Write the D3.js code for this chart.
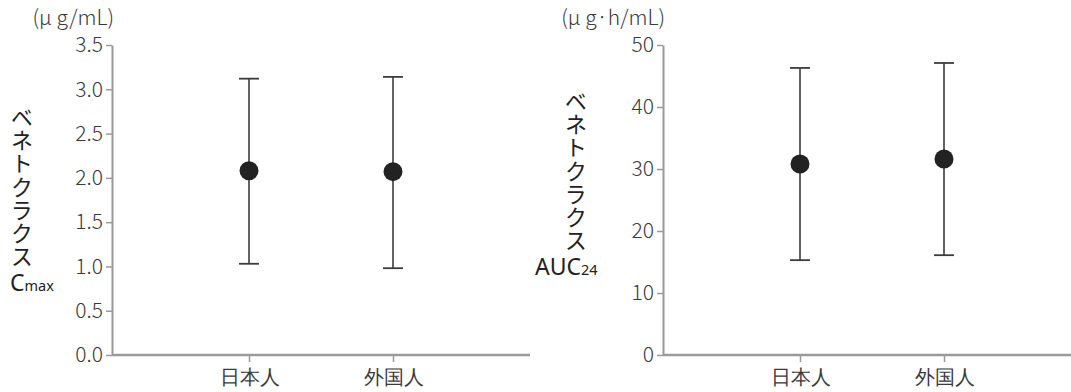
<!DOCTYPE html>
<html>
<head>
<meta charset="utf-8">
<script src="https://cdn.jsdelivr.net/npm/d3@7"></script>
<style>
  html, body { margin: 0; padding: 0; background: #fff; }
  svg { display: block; font-family: "Noto Sans CJK JP", "Noto Sans", sans-serif; }
</style>
</head>
<body>
<svg id="chart" width="1071" height="392"></svg>
<script>
// Groups
const categories = ["日本人", "外国人"];

// Cmax (μg/mL): mean with lower / upper whisker
const cmaxMean = [2.08, 2.07];
const cmaxLow  = [1.03, 0.98];
const cmaxHigh = [3.12, 3.14];
const cmaxTicks = [0, 0.5, 1.0, 1.5, 2.0, 2.5, 3.0, 3.5];

// AUC24 (μg·h/mL)
const aucMean = [30.8, 31.6];
const aucLow  = [15.3, 16.1];
const aucHigh = [46.3, 47.1];
const aucTicks = [0, 10, 20, 30, 40, 50];

const svg = d3.select("#chart");
const axisColor = "#9a9a9a";
const textColor = "#3a3a3a";

function panel(opt) {
  const g = svg.append("g");
  const top = 45, bottom = 355;

  const y = d3.scaleLinear().domain([0, opt.max]).range([bottom, top]);
  const x = d3.scalePoint().domain(categories).range([opt.axisX + 137, opt.axisX + 281]);

  // y axis
  const yAxis = g.append("g")
    .attr("transform", `translate(${opt.axisX},0)`)
    .call(d3.axisLeft(y).tickValues(opt.ticks).tickFormat(opt.fmt).tickSize(6).tickSizeOuter(0).tickPadding(3));
  yAxis.select(".domain").attr("stroke", axisColor).attr("stroke-width", 2);
  yAxis.selectAll(".tick line").attr("stroke", axisColor).attr("stroke-width", 1.5);
  yAxis.selectAll(".tick text").attr("fill", textColor).attr("font-size", 21)
    .attr("font-weight", 300)
    .attr("font-family", "'Noto Sans CJK JP', 'Noto Sans', sans-serif");

  // x axis
  const xAxis = g.append("g")
    .attr("transform", `translate(0,${bottom})`)
    .call(d3.axisBottom(x).tickSize(7).tickSizeOuter(0).tickPadding(8));
  xAxis.select(".domain").remove();
  xAxis.append("line")
    .attr("x1", opt.axisX).attr("x2", opt.axisRight)
    .attr("stroke", axisColor).attr("stroke-width", 2.5);
  xAxis.selectAll(".tick line").attr("stroke", axisColor).attr("stroke-width", 1.5);
  xAxis.selectAll(".tick text").attr("fill", textColor).attr("font-size", 19.5)
    .attr("font-weight", 300);

  // error bars
  const capW = 10;
  categories.forEach((c, i) => {
    const cx = x(c);
    g.append("line").attr("x1", cx).attr("x2", cx)
      .attr("y1", y(opt.high[i])).attr("y2", y(opt.low[i]))
      .attr("stroke", "#3c3c3c").attr("stroke-width", 1.6);
    [opt.high[i], opt.low[i]].forEach(v => {
      g.append("line").attr("x1", cx - capW).attr("x2", cx + capW)
        .attr("y1", y(v)).attr("y2", y(v))
        .attr("stroke", "#3c3c3c").attr("stroke-width", 1.8);
    });
    g.append("circle").attr("cx", cx).attr("cy", y(opt.mean[i])).attr("r", 9.5)
      .attr("fill", "#222");
  });

  // unit label
  g.append("text")
    .attr("x", opt.axisX + 2).attr("y", 25)
    .attr("text-anchor", "end").attr("fill", textColor).attr("font-size", 21)
    .attr("font-weight", 300)
    .text(opt.unit);

  // vertical title
  g.append("text")
    .attr("x", opt.titleX).attr("y", opt.titleTop)
    .style("writing-mode", "vertical-rl")
    .style("text-orientation", "upright")
    .attr("letter-spacing", 1)
    .attr("fill", "#222").attr("font-size", 22.3)
    .text("ベネトクラクス");
  const sub = g.append("text")
    .attr("x", opt.subX).attr("y", opt.titleTop + 7 * 23.3 + 22)
    .attr("fill", "#222").attr("font-family", "'Noto Sans', sans-serif");
  sub.append("tspan").attr("font-size", 23).text(opt.subMain);
  sub.append("tspan").attr("font-size", 14.5).text(opt.subSmall);
}

panel({
  axisX: 112, axisRight: 530, max: 3.5, ticks: cmaxTicks, fmt: d3.format(".1f"),
  mean: cmaxMean, low: cmaxLow, high: cmaxHigh,
  unit: "(μ g/mL)", titleX: 22, titleTop: 106, subX: 10, subMain: "C", subSmall: "max"
});

panel({
  axisX: 663, axisRight: 1071, max: 50, ticks: aucTicks, fmt: d3.format("d"),
  mean: aucMean, low: aucLow, high: aucHigh,
  unit: "(μ g·h/mL)", titleX: 576, titleTop: 90, subX: 535, subMain: "AUC", subSmall: "24"
});
</script>
</body>
</html>
